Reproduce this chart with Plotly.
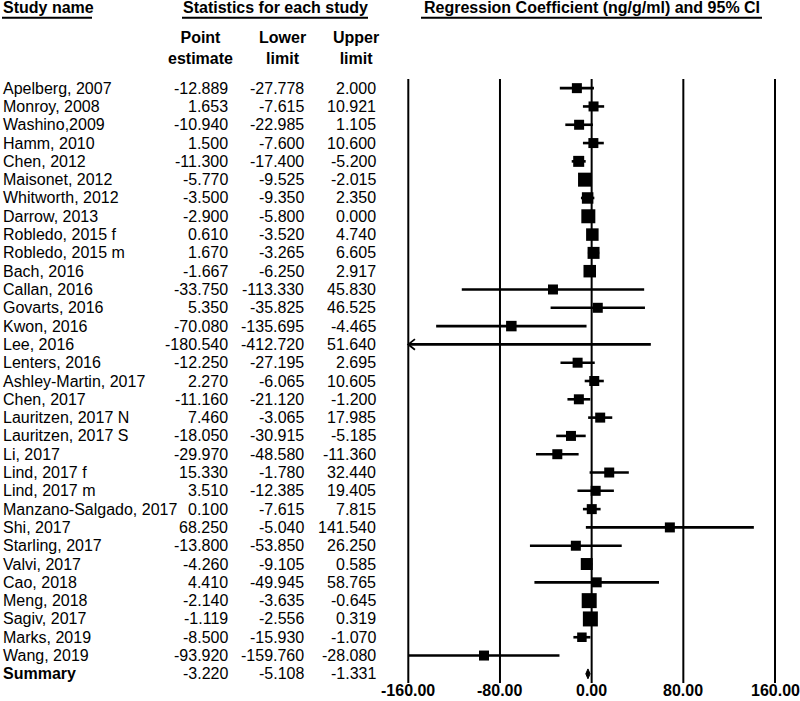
import plotly.graph_objects as go

# ---------------- data ----------------
studies = ["Apelberg, 2007", "Monroy, 2008", "Washino,2009", "Hamm, 2010", "Chen, 2012",
           "Maisonet, 2012", "Whitworth, 2012", "Darrow, 2013", "Robledo, 2015 f", "Robledo, 2015 m",
           "Bach, 2016", "Callan, 2016", "Govarts, 2016", "Kwon, 2016", "Lee, 2016",
           "Lenters, 2016", "Ashley-Martin, 2017", "Chen, 2017", "Lauritzen, 2017 N", "Lauritzen, 2017 S",
           "Li, 2017", "Lind, 2017 f", "Lind, 2017 m", "Manzano-Salgado, 2017", "Shi, 2017",
           "Starling, 2017", "Valvi, 2017", "Cao, 2018", "Meng, 2018", "Sagiv, 2017",
           "Marks, 2019", "Wang, 2019"]
point = [-12.889, 1.653, -10.940, 1.500, -11.300, -5.770, -3.500, -2.900, 0.610, 1.670,
         -1.667, -33.750, 5.350, -70.080, -180.540, -12.250, 2.270, -11.160, 7.460, -18.050,
         -29.970, 15.330, 3.510, 0.100, 68.250, -13.800, -4.260, 4.410, -2.140, -1.119,
         -8.500, -93.920]
lower = [-27.778, -7.615, -22.985, -7.600, -17.400, -9.525, -9.350, -5.800, -3.520, -3.265,
         -6.250, -113.330, -35.825, -135.695, -412.720, -27.195, -6.065, -21.120, -3.065, -30.915,
         -48.580, -1.780, -12.385, -7.615, -5.040, -53.850, -9.105, -49.945, -3.635, -2.556,
         -15.930, -159.760]
upper = [2.000, 10.921, 1.105, 10.600, -5.200, -2.015, 2.350, 0.000, 4.740, 6.605,
         2.917, 45.830, 46.525, -4.465, 51.640, 2.695, 10.605, -1.200, 17.985, -5.185,
         -11.360, 32.440, 19.405, 7.815, 141.540, 26.250, 0.585, 58.765, -0.645, 0.319,
         -1.070, -28.080]
summary_label = "Summary"
summary_point, summary_lower, summary_upper = -3.220, -5.108, -1.331
tick_vals = [-160, -80, 0, 80, 160]
tick_text = ["-160.00", "-80.00", "0.00", "80.00", "160.00"]

# relative study weights, shown as square marker sizes (px)
marker_sizes = [10, 10, 10, 10, 11, 14, 11.5, 14, 12.5, 12,
                12.5, 10, 10, 10.5, 0, 10, 10, 10, 10, 10,
                10, 10, 10, 10, 10, 10, 12, 10, 15, 15,
                9.5, 10]

# ---------------- geometry helpers ----------------
W, H = 800, 701
TOP, BOTTOM = 79, 683
AX_MIN, AX_MAX = -160, 160
FONT = "Liberation Sans, Arial, sans-serif"
FS = 16


def pxx(p):
    return p / W


def pyy(p):
    return (BOTTOM - p) / (BOTTOM - TOP)


n = len(studies)
rows = list(range(n))
sum_row = n

fig = go.Figure()

# CI lines
ex, ey = [], []
for i in rows:
    lo = max(lower[i], AX_MIN)
    hi = min(upper[i], AX_MAX)
    ex += [lo, hi, None]
    ey += [i, i, None]
fig.add_trace(go.Scatter(x=ex, y=ey, mode="lines", line=dict(color="black", width=2.6),
                         hoverinfo="skip"))

# arrow chevrons for clipped CIs
cx, cy = [], []
for i in rows:
    if lower[i] < AX_MIN:
        cx += [AX_MIN + 5.8, AX_MIN, AX_MIN + 5.8, None]
        cy += [i - 0.29, i, i + 0.29, None]
fig.add_trace(go.Scatter(x=cx, y=cy, mode="lines", line=dict(color="black", width=1.8),
                         hoverinfo="skip"))

# point squares (only those inside the axis)
sx, sy, ss = [], [], []
for i in rows:
    if AX_MIN <= point[i] <= AX_MAX and marker_sizes[i] > 0:
        sx.append(point[i])
        sy.append(i)
        ss.append(marker_sizes[i])
fig.add_trace(go.Scatter(x=sx, y=sy, mode="markers",
                         marker=dict(symbol="square", size=ss, color="black", opacity=1,
                                     line=dict(width=0)),
                         hoverinfo="skip"))

# summary diamond
fig.add_trace(go.Scatter(
    x=[summary_lower, summary_point, summary_upper, summary_point, summary_lower],
    y=[sum_row, sum_row - 0.27, sum_row, sum_row + 0.27, sum_row],
    mode="lines", fill="toself", fillcolor="black", line=dict(color="black", width=1),
    hoverinfo="skip"))

# vertical reference lines
shapes = []
for v in tick_vals:
    shapes.append(dict(type="line", xref="x", yref="paper", x0=v, x1=v, y0=0, y1=1,
                       line=dict(color="black", width=2)))
# header underlines
for x0, x1 in [(2, 92), (182, 368), (421, 762)]:
    shapes.append(dict(type="line", xref="paper", yref="paper", x0=pxx(x0), x1=pxx(x1),
                       y0=pyy(17.8), y1=pyy(17.8), line=dict(color="black", width=2)))

ann = []


def add_text(text, x, y, xanchor="left", yref="y", bold=False, yanchor="middle"):
    ann.append(dict(text=("<b>%s</b>" % text) if bold else text, x=x, y=y, xref="paper",
                    yref=yref, xanchor=xanchor, yanchor=yanchor, showarrow=False,
                    font=dict(family=FONT, size=FS, color="black")))


for i in rows:
    add_text(studies[i], pxx(1), i)
    add_text("%.3f" % point[i], pxx(229.5), i, "right")
    add_text("%.3f" % lower[i], pxx(306), i, "right")
    add_text("%.3f" % upper[i], pxx(378), i, "right")
add_text(summary_label, pxx(1), sum_row, bold=True)
add_text("%.3f" % summary_point, pxx(229.5), sum_row, "right")
add_text("%.3f" % summary_lower, pxx(306), sum_row, "right")
add_text("%.3f" % summary_upper, pxx(378), sum_row, "right")

# headers
add_text("Study name", pxx(1), pyy(7), yref="paper", bold=True)
add_text("Statistics for each study", pxx(275), pyy(7), "center", yref="paper", bold=True)
add_text("Regression Coefficient (ng/g/ml) and 95% CI", pxx(591.7), pyy(7), "center",
         yref="paper", bold=True)
add_text("Point<br>estimate", pxx(200), pyy(48), "center", yref="paper", bold=True)
add_text("Lower<br>limit", pxx(282.5), pyy(48), "center", yref="paper", bold=True)
add_text("Upper<br>limit", pxx(356), pyy(48), "center", yref="paper", bold=True)

# x tick labels
for v, t in zip(tick_vals, tick_text):
    ann.append(dict(text="<b>%s</b>" % t, x=v, y=pyy(701), xref="x", yref="paper",
                    xanchor="center", yanchor="bottom", showarrow=False,
                    font=dict(family=FONT, size=FS, color="black")))

scale = (775 - 408.3) / (AX_MAX - AX_MIN)
zero_px = 408.3 + (0 - AX_MIN) * scale
x_left_px, x_right_px = 398, 786
fig.update_layout(
    width=W, height=H,
    margin=dict(l=0, r=0, t=TOP, b=H - BOTTOM, pad=0),
    paper_bgcolor="white", plot_bgcolor="white",
    showlegend=False,
    xaxis=dict(domain=[pxx(x_left_px), pxx(x_right_px)],
               range=[(x_left_px - zero_px) / scale, (x_right_px - zero_px) / scale],
               showgrid=False, zeroline=False, showticklabels=False, ticks="",
               showline=False, fixedrange=True),
    yaxis=dict(range=[n + 0.5, -0.5], showgrid=False, zeroline=False,
               showticklabels=False, ticks="", showline=False, fixedrange=True),
    shapes=shapes, annotations=ann,
)

fig.write_html("out.html", config={"displayModeBar": False},
               post_script="document.body.style.margin='0';document.body.style.overflow='hidden';")
